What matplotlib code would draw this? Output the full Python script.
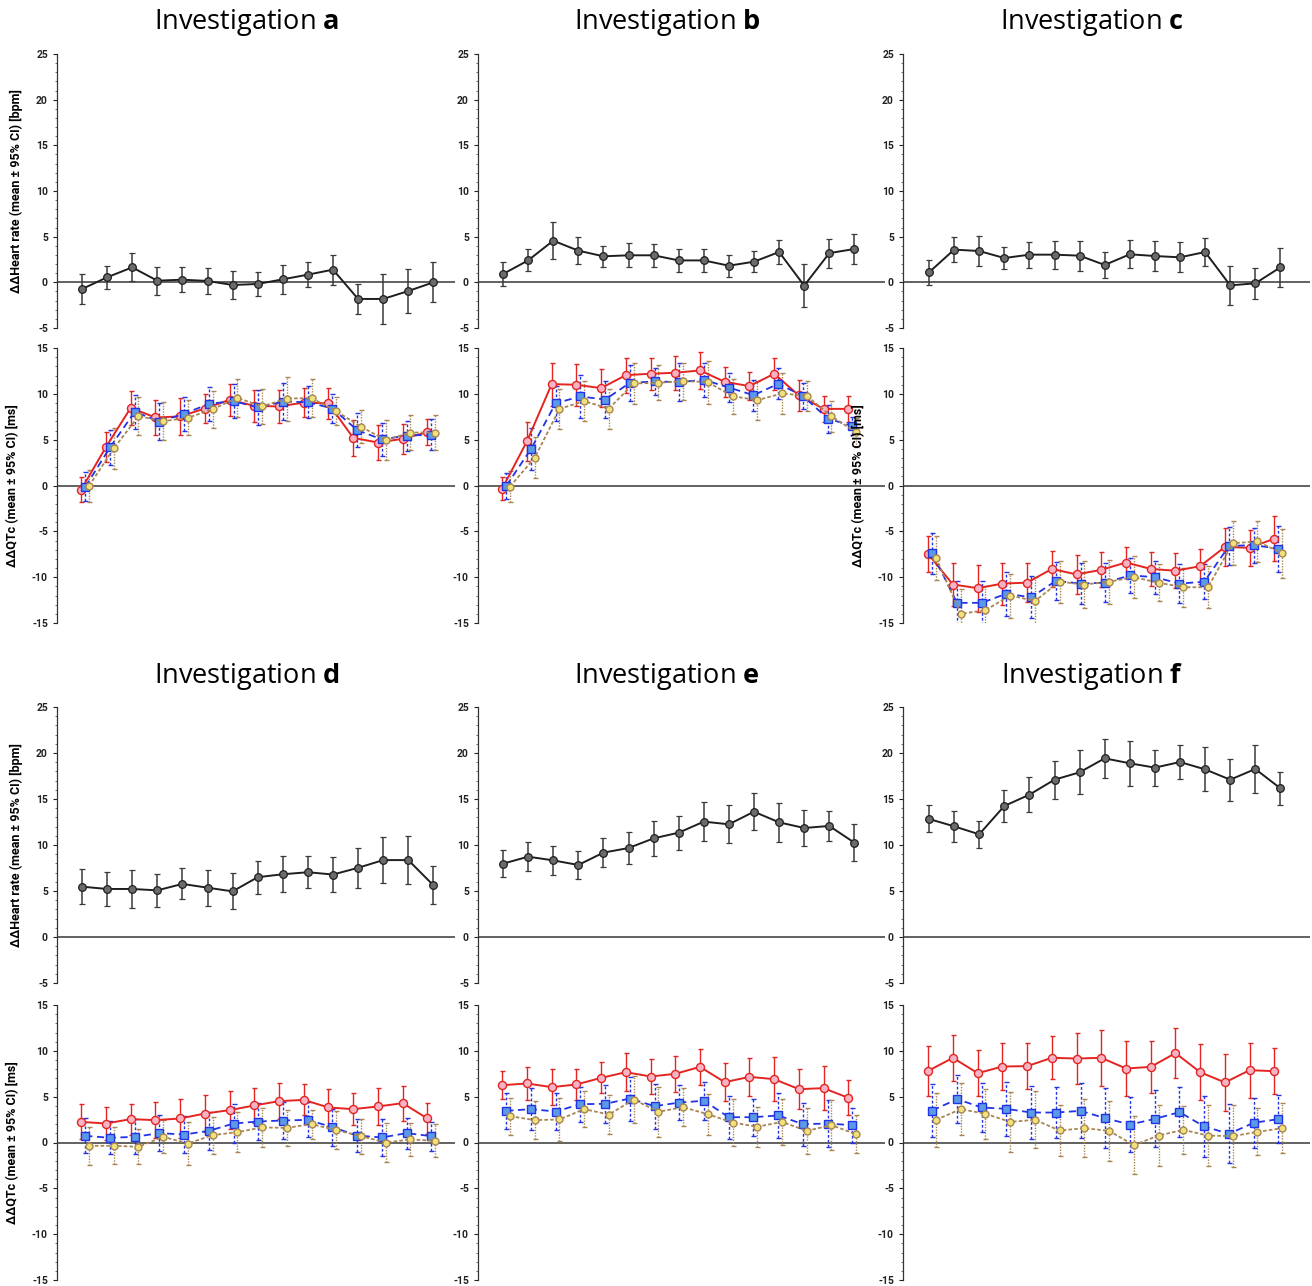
import numpy as np
import matplotlib
matplotlib.use("Agg")
import matplotlib.pyplot as plt

plt.rcParams['mathtext.fontset'] = 'custom'
plt.rcParams['mathtext.rm'] = 'Open Sans'
plt.rcParams['mathtext.bf'] = 'Open Sans:bold'

# time points (15 per investigation)
n_pts = 15

# heart rate: mean and 95% CI half width
hr_a = [-0.73, 0.55, 1.64, 0.18, 0.29, 0.15, -0.29, -0.18, 0.33, 0.84, 1.39, -1.82, -1.82, -0.95, 0.0]
hr_a_ci = [1.68, 1.28, 1.52, 1.55, 1.35, 1.39, 1.53, 1.35, 1.57, 1.34, 1.63, 1.66, 2.75, 2.45, 2.2]
hr_b = [0.91, 2.4, 4.56, 3.47, 2.85, 2.96, 2.96, 2.4, 2.4, 1.82, 2.26, 3.32, -0.36, 3.2, 3.65]
hr_b_ci = [1.27, 1.2, 2.03, 1.47, 1.12, 1.32, 1.25, 1.3, 1.25, 1.19, 1.14, 1.34, 2.32, 1.59, 1.59]
hr_c = [1.09, 3.58, 3.43, 2.66, 3.03, 3.03, 2.92, 1.9, 3.07, 2.88, 2.74, 3.32, -0.33, -0.11, 1.64]
hr_c_ci = [1.4, 1.4, 1.63, 1.22, 1.44, 1.54, 1.63, 1.47, 1.55, 1.63, 1.63, 1.56, 2.17, 1.73, 2.16]
hr_d = [5.47, 5.22, 5.22, 5.07, 5.77, 5.36, 4.96, 6.5, 6.82, 7.04, 6.79, 7.52, 8.36, 8.36, 5.62]
hr_d_ci = [1.92, 1.83, 2.05, 1.79, 1.68, 1.96, 1.97, 1.81, 1.94, 1.72, 1.88, 2.19, 2.49, 2.62, 2.06]
hr_e = [7.97, 8.73, 8.33, 7.83, 9.17, 9.67, 10.72, 11.34, 12.54, 12.25, 13.62, 12.46, 11.85, 12.07, 10.25]
hr_e_ci = [1.47, 1.6, 1.58, 1.56, 1.61, 1.69, 1.92, 1.85, 2.1, 2.07, 2.0, 2.14, 1.96, 1.65, 1.98]
hr_f = [12.83, 12.03, 11.16, 14.24, 15.47, 17.1, 17.9, 19.42, 18.88, 18.41, 19.02, 18.22, 17.1, 18.26, 16.16]
hr_f_ci = [1.47, 1.69, 1.45, 1.74, 1.87, 2.08, 2.39, 2.14, 2.47, 1.96, 1.83, 2.38, 2.28, 2.65, 1.8]

# QTc: three correction methods (red, blue, gold), mean and CI half width
qtc_a_red = [-0.44, 4.2, 8.47, 7.42, 7.53, 8.4, 9.35, 8.69, 8.62, 9.05, 8.95, 5.2, 4.69, 5.09, 5.82]
qtc_a_red_ci = [1.37, 1.63, 1.89, 1.95, 1.97, 1.62, 1.75, 1.76, 1.82, 1.6, 1.69, 1.97, 1.91, 1.64, 1.4]
qtc_a_blue = [-0.15, 4.15, 8.04, 6.98, 7.82, 8.91, 9.2, 8.51, 9.16, 9.09, 8.4, 6.04, 5.02, 5.45, 5.53]
qtc_a_blue_ci = [1.57, 1.91, 1.86, 2.0, 1.86, 1.86, 1.86, 1.94, 2.04, 1.75, 1.56, 1.86, 1.82, 1.64, 1.71]
qtc_a_gold = [-0.04, 4.04, 7.56, 7.02, 7.38, 8.33, 9.56, 8.62, 9.49, 9.53, 8.11, 6.4, 4.98, 5.78, 5.78]
qtc_a_gold_ci = [1.76, 2.19, 2.06, 2.07, 1.91, 2.02, 2.07, 1.9, 2.4, 2.06, 1.51, 1.81, 2.19, 1.96, 1.86]

qtc_b_red = [-0.33, 4.82, 11.06, 10.99, 10.62, 12.04, 12.19, 12.3, 12.55, 11.31, 10.84, 12.19, 9.82, 8.36, 8.36]
qtc_b_red_ci = [1.3, 2.1, 2.34, 2.3, 2.06, 1.92, 1.72, 1.86, 2.03, 1.65, 1.52, 1.74, 1.71, 1.45, 1.45]
qtc_b_blue = [-0.04, 3.98, 8.98, 9.71, 9.38, 11.2, 11.35, 11.28, 11.53, 10.69, 9.85, 11.09, 9.78, 7.3, 6.5]
qtc_b_blue_ci = [1.41, 2.27, 1.92, 2.3, 2.0, 1.99, 1.5, 2.05, 1.88, 1.55, 1.68, 1.68, 1.4, 1.52, 0.95]
qtc_b_gold = [-0.11, 3.03, 8.36, 9.2, 8.39, 11.13, 11.2, 11.39, 11.28, 9.74, 9.31, 10.04, 9.78, 7.55, 5.8]
qtc_b_gold_ci = [1.68, 2.21, 2.17, 2.17, 2.19, 2.28, 1.92, 2.01, 2.34, 1.9, 2.14, 2.27, 1.62, 1.66, 1.6]

qtc_c_red = [-7.5, -10.8, -11.2, -10.7, -10.6, -9.1, -9.7, -9.2, -8.4, -9.1, -9.3, -8.8, -6.7, -6.8, -5.8]
qtc_c_red_ci = [1.95, 2.3, 2.55, 2.3, 2.15, 1.95, 2.1, 1.9, 1.7, 1.9, 1.9, 1.9, 2.1, 1.95, 2.45]
qtc_c_blue = [-7.4, -12.8, -12.8, -11.8, -12.2, -10.4, -10.7, -10.6, -9.8, -10.0, -10.7, -10.5, -6.6, -6.5, -6.9]
qtc_c_blue_ci = [2.2, 2.4, 2.4, 2.4, 2.3, 2.1, 2.2, 2.1, 1.9, 1.8, 2.1, 1.9, 2.1, 1.9, 2.5]
qtc_c_gold = [-7.9, -14.0, -13.6, -12.0, -12.6, -10.5, -10.8, -10.5, -10.0, -10.6, -11.1, -11.1, -6.3, -6.1, -7.4]
qtc_c_gold_ci = [2.4, 2.7, 2.6, 2.4, 2.6, 2.3, 2.6, 2.4, 2.3, 2.0, 2.1, 2.3, 2.4, 2.2, 2.7]

qtc_d_red = [2.25, 2.07, 2.55, 2.44, 2.62, 3.16, 3.53, 4.04, 4.51, 4.65, 3.82, 3.64, 3.93, 4.29, 2.62]
qtc_d_red_ci = [1.9, 1.75, 1.7, 2.0, 2.1, 2.0, 2.05, 1.9, 2.0, 1.7, 2.0, 1.75, 2.0, 1.9, 1.65]
qtc_d_blue = [0.73, 0.51, 0.62, 1.02, 0.87, 1.27, 2.07, 2.29, 2.4, 2.47, 1.67, 0.76, 0.55, 1.02, 0.69]
qtc_d_blue_ci = [1.9, 1.8, 1.9, 2.0, 2.0, 2.1, 2.1, 2.0, 2.0, 1.9, 2.0, 1.8, 2.0, 1.7, 1.6]
qtc_d_gold = [-0.36, -0.36, -0.47, 0.62, -0.11, 0.8, 1.13, 1.64, 1.6, 2.0, 1.35, 0.69, 0.0, 0.33, 0.18]
qtc_d_gold_ci = [2.1, 2.0, 1.9, 1.8, 2.3, 2.0, 2.2, 2.1, 2.0, 1.6, 2.1, 1.9, 2.1, 1.8, 1.8]

qtc_e_red = [6.25, 6.44, 6.04, 6.33, 7.05, 7.67, 7.2, 7.49, 8.25, 6.58, 7.16, 6.91, 5.82, 5.93, 4.87]
qtc_e_red_ci = [1.5, 1.8, 2.0, 1.7, 1.7, 2.05, 1.9, 1.95, 2.0, 2.1, 2.05, 2.4, 2.2, 2.4, 1.9]
qtc_e_blue = [3.45, 3.64, 3.38, 4.18, 4.22, 4.8, 3.96, 4.36, 4.55, 2.76, 2.76, 2.95, 2.0, 2.07, 1.89]
qtc_e_blue_ci = [1.95, 2.3, 2.05, 1.9, 2.05, 2.4, 2.45, 1.95, 2.05, 2.35, 2.0, 2.5, 2.35, 2.6, 1.9]
qtc_e_gold = [2.87, 2.44, 2.51, 3.64, 3.05, 4.69, 3.35, 3.85, 3.09, 2.18, 1.71, 2.25, 1.27, 1.89, 0.91]
qtc_e_gold_ci = [2.0, 2.1, 2.3, 2.0, 2.1, 2.6, 2.7, 2.05, 2.25, 2.6, 2.2, 2.55, 2.5, 2.7, 2.1]

qtc_f_red = [7.82, 9.24, 7.56, 8.29, 8.33, 9.24, 9.16, 9.24, 8.07, 8.25, 9.75, 7.67, 6.55, 7.89, 7.78]
qtc_f_red_ci = [2.75, 2.5, 2.5, 2.6, 2.5, 2.35, 2.8, 3.05, 3.0, 2.8, 2.7, 3.05, 3.1, 3.0, 2.5]
qtc_f_blue = [3.49, 4.73, 3.82, 3.67, 3.27, 3.27, 3.45, 2.65, 1.96, 2.58, 3.31, 1.75, 0.95, 2.15, 2.55]
qtc_f_blue_ci = [2.85, 2.6, 2.65, 2.95, 2.85, 2.75, 3.0, 3.3, 2.95, 3.1, 2.75, 3.3, 3.2, 2.75, 2.6]
qtc_f_gold = [2.47, 3.64, 3.13, 2.25, 2.47, 1.31, 1.56, 1.27, -0.29, 0.76, 1.38, 0.76, 0.69, 1.16, 1.56]
qtc_f_gold_ci = [2.95, 2.8, 2.7, 3.25, 3.1, 2.75, 3.15, 3.25, 3.2, 3.3, 2.65, 3.3, 3.35, 2.55, 2.7]

letters = ['a', 'b', 'c', 'd', 'e', 'f']
hr_means = [hr_a, hr_b, hr_c, hr_d, hr_e, hr_f]
hr_cis = [hr_a_ci, hr_b_ci, hr_c_ci, hr_d_ci, hr_e_ci, hr_f_ci]
qtc_red = [qtc_a_red, qtc_b_red, qtc_c_red, qtc_d_red, qtc_e_red, qtc_f_red]
qtc_red_ci = [qtc_a_red_ci, qtc_b_red_ci, qtc_c_red_ci, qtc_d_red_ci, qtc_e_red_ci, qtc_f_red_ci]
qtc_blue = [qtc_a_blue, qtc_b_blue, qtc_c_blue, qtc_d_blue, qtc_e_blue, qtc_f_blue]
qtc_blue_ci = [qtc_a_blue_ci, qtc_b_blue_ci, qtc_c_blue_ci, qtc_d_blue_ci, qtc_e_blue_ci, qtc_f_blue_ci]
qtc_gold = [qtc_a_gold, qtc_b_gold, qtc_c_gold, qtc_d_gold, qtc_e_gold, qtc_f_gold]
qtc_gold_ci = [qtc_a_gold_ci, qtc_b_gold_ci, qtc_c_gold_ci, qtc_d_gold_ci, qtc_e_gold_ci, qtc_f_gold_ci]

hr_label = 'ΔΔHeart rate (mean ± 95% CI) [bpm]'
qtc_label = 'ΔΔQTc (mean ± 95% CI) [ms]'

W, H = 1312, 1286
fig = plt.figure(figsize=(W / 100, H / 100), dpi=100)

# pixel layout: column spine x, right edge, first point x; row tops/bottoms
cols = [(57, 455, 82), (478, 885, 503), (903, 1310, 929)]
step = 25.1
rows = [((54, 328), (348, 623), 22), ((707, 983), (1005, 1280), 676)]
label_font = ['Roboto', 'DejaVu Sans']


def make_ax(x0, x1, y0, y1):
    ax = fig.add_axes([x0 / W, 1 - y1 / H, (x1 - x0) / W, (y1 - y0) / H])
    for s in ['top', 'right', 'bottom']:
        ax.spines[s].set_visible(False)
    ax.spines['left'].set_linewidth(0.9)
    ax.spines['left'].set_color('#333333')
    ax.set_xticks([])
    ax.axhline(0, color='#555555', lw=1.3, zorder=1)
    ax.tick_params(axis='y', which='major', length=3, width=0.8, colors='#222222')
    ax.tick_params(axis='y', which='minor', length=1.8, width=0.6, colors='#555555')
    return ax


def set_yaxis(ax, lo, hi):
    ax.set_ylim(lo, hi)
    ax.set_yticks(np.arange(lo, hi + 1, 5))
    ax.set_yticks(np.arange(lo, hi + 1, 1), minor=True)
    ax.set_yticklabels([str(v) for v in range(lo, hi + 1, 5)], fontsize=7.5,
                       fontweight='bold', family=label_font, color='#222222')


def styled_errorbar(ax, x, y, e, color, ls, lw, marker, mfc, mec, ms, ebls):
    res = ax.errorbar(x, y, yerr=e, color=color, ls=ls, lw=lw, marker=marker, mfc=mfc,
                      mec=mec, ms=ms, mew=1.0, ecolor=color, elinewidth=1.0,
                      capsize=1.8, capthick=1.0, zorder=3)
    res[2][0].set_linestyle(ebls)
    return res


for k, letter in enumerate(letters):
    r, c = divmod(k, 3)
    x0, x1, first = cols[c]
    (hy0, hy1), (qy0, qy1), ty = rows[r]
    xlim = ((x0 - first) / step, (x1 - first) / step)
    cx = (x0 + 190) if c == 0 else (x0 + 189)
    fig.text(cx / W, 1 - (ty + 1) / H, r'Investigation $\mathbf{' + letter + '}$',
             ha='center', va='center', fontsize=19.5, family='Open Sans')

    x = np.arange(n_pts)

    # heart rate panel
    ax = make_ax(x0, x1, hy0, hy1)
    ax.set_xlim(*xlim)
    set_yaxis(ax, -5, 25)
    ax.errorbar(x, hr_means[k], yerr=hr_cis[k], color='#1e1e1e', lw=1.4, marker='o',
                mfc='#6b6b6b', mec='#1e1e1e', ms=5.5, mew=0.9, ecolor='#3a3a3a',
                elinewidth=1.1, capsize=2, capthick=1.0, zorder=3)
    if c == 0:
        ax.set_ylabel(hr_label, fontsize=9, fontweight='bold', family=label_font, labelpad=9)

    # QTc panel
    ax = make_ax(x0, x1, qy0, qy1)
    ax.set_xlim(*xlim)
    set_yaxis(ax, -15, 15)
    styled_errorbar(ax, x * 0.985 - 0.03, qtc_red[k], qtc_red_ci[k], '#e42420', '-', 1.4,
                    'o', '#f7b3c6', '#e42420', 5.8, '-')
    styled_errorbar(ax, x * 0.985 + 0.13, qtc_blue[k], qtc_blue_ci[k], '#2233e6', (0, (4, 2.5)), 1.3,
                    's', '#5a9ae6', '#2233e6', 5.2, (0, (2, 1.5)))
    styled_errorbar(ax, x * 0.985 + 0.28, qtc_gold[k], qtc_gold_ci[k], '#a98552', (0, (2, 1.2)), 1.3,
                    'o', '#efe27a', '#a98552', 5, (0, (1, 1)))
    if c == 0 or letter == 'c':
        ax.set_ylabel(qtc_label, fontsize=9, fontweight='bold', family=label_font, labelpad=9)

fig.savefig('out.png', dpi=100, facecolor='white')
